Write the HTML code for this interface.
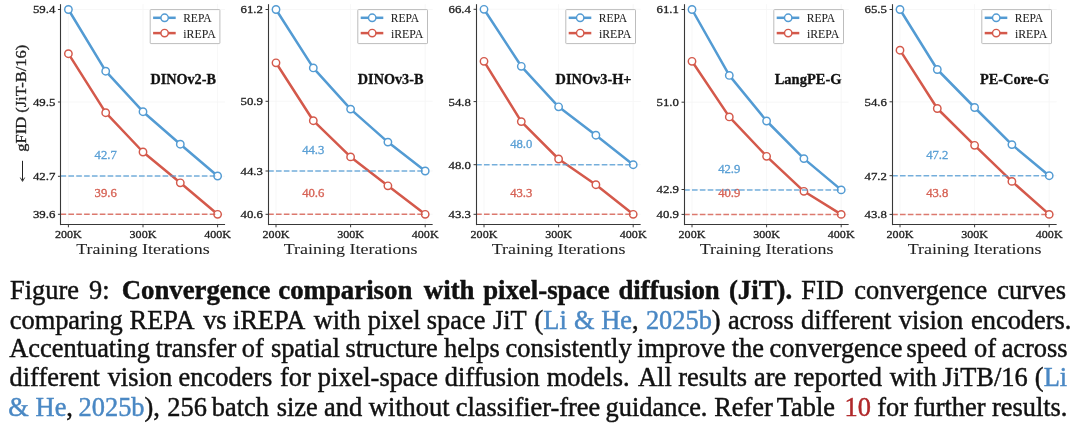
<!DOCTYPE html>
<html><head><meta charset="utf-8"><style>
html,body{margin:0;padding:0;background:#fff;}
.layer{position:absolute;left:0;top:0;width:1080px;height:427px;will-change:transform;}
body{width:1080px;height:427px;position:relative;overflow:hidden;}
svg{position:absolute;left:0;top:0;}
svg text{font-family:"Liberation Serif",serif;stroke-width:0.3px;}
.w{position:absolute;white-space:nowrap;-webkit-text-stroke:0.45px currentColor;font-family:"Liberation Serif",serif;font-size:26.4px;line-height:0;color:#111;}
.w b{font-weight:bold;font-size:26.8px;}
.b{color:#4A88C4;}
.r{color:#B0282A;}
</style></head><body><div class="layer">
<svg width="1080" height="262" viewBox="0 0 1080 262">
<line x1="68.40" y1="4.2" x2="68.40" y2="224.3" stroke="#F5F5F5" stroke-width="0.8"/>
<line x1="143.00" y1="4.2" x2="143.00" y2="224.3" stroke="#F5F5F5" stroke-width="0.8"/>
<line x1="217.60" y1="4.2" x2="217.60" y2="224.3" stroke="#F5F5F5" stroke-width="0.8"/>
<line x1="60.95" y1="9.5" x2="225.05" y2="9.5" stroke="#F5F5F5" stroke-width="0.8"/>
<line x1="60.95" y1="102.0" x2="225.05" y2="102.0" stroke="#F5F5F5" stroke-width="0.8"/>
<line x1="60.95" y1="176.3" x2="225.05" y2="176.3" stroke="#F5F5F5" stroke-width="0.8"/>
<line x1="60.95" y1="214.3" x2="225.05" y2="214.3" stroke="#F5F5F5" stroke-width="0.8"/>
<text x="105.70" y="159.40" fill-opacity="0.9" fill="#539BD3" stroke="#539BD3" font-size="11.8" text-anchor="middle" textLength="22.2" lengthAdjust="spacingAndGlyphs">42.7</text>
<text x="105.70" y="197.40" fill-opacity="0.9" fill="#D4594B" stroke="#D4594B" font-size="11.8" text-anchor="middle" textLength="22.2" lengthAdjust="spacingAndGlyphs">39.6</text>
<polyline points="68.40,53.7 105.70,112.7 143.00,152.0 180.30,182.8 217.60,214.3" fill="none" stroke="#D4594B" stroke-width="2.5" stroke-linejoin="round"/>
<circle cx="68.40" cy="53.7" r="3.7" fill="#fff" stroke="#D4594B" stroke-width="1.45"/>
<circle cx="105.70" cy="112.7" r="3.7" fill="#fff" stroke="#D4594B" stroke-width="1.45"/>
<circle cx="143.00" cy="152.0" r="3.7" fill="#fff" stroke="#D4594B" stroke-width="1.45"/>
<circle cx="180.30" cy="182.8" r="3.7" fill="#fff" stroke="#D4594B" stroke-width="1.45"/>
<circle cx="217.60" cy="214.3" r="3.7" fill="#fff" stroke="#D4594B" stroke-width="1.45"/>
<polyline points="68.40,9.5 105.70,71.2 143.00,111.7 180.30,144.2 217.60,176.0" fill="none" stroke="#539BD3" stroke-width="2.5" stroke-linejoin="round"/>
<circle cx="68.40" cy="9.5" r="3.7" fill="#fff" stroke="#539BD3" stroke-width="1.45"/>
<circle cx="105.70" cy="71.2" r="3.7" fill="#fff" stroke="#539BD3" stroke-width="1.45"/>
<circle cx="143.00" cy="111.7" r="3.7" fill="#fff" stroke="#539BD3" stroke-width="1.45"/>
<circle cx="180.30" cy="144.2" r="3.7" fill="#fff" stroke="#539BD3" stroke-width="1.45"/>
<circle cx="217.60" cy="176.0" r="3.7" fill="#fff" stroke="#539BD3" stroke-width="1.45"/>
<line x1="60.55" y1="176.0" x2="217.60" y2="176.0" stroke="#539BD3" stroke-opacity="0.8" stroke-width="1.5" stroke-dasharray="5.6 2.25"/>
<line x1="60.55" y1="214.3" x2="217.60" y2="214.3" stroke="#D4594B" stroke-opacity="0.8" stroke-width="1.5" stroke-dasharray="5.6 2.25"/>
<line x1="60.50" y1="4.2" x2="60.50" y2="225.10000000000002" stroke="#383838" stroke-width="1.1"/>
<line x1="60.00" y1="224.5" x2="225.05" y2="224.5" stroke="#383838" stroke-width="1.1"/>
<line x1="57.95" y1="9.5" x2="60.95" y2="9.5" stroke="#383838" stroke-width="1"/>
<text x="55.35" y="13.40" fill="#222222" stroke="#222222" font-size="11.3" text-anchor="end" textLength="22.4" lengthAdjust="spacingAndGlyphs">59.4</text>
<line x1="57.95" y1="102.0" x2="60.95" y2="102.0" stroke="#383838" stroke-width="1"/>
<text x="55.35" y="105.90" fill="#222222" stroke="#222222" font-size="11.3" text-anchor="end" textLength="22.4" lengthAdjust="spacingAndGlyphs">49.5</text>
<line x1="57.95" y1="176.3" x2="60.95" y2="176.3" stroke="#383838" stroke-width="1"/>
<text x="55.35" y="180.20" fill="#222222" stroke="#222222" font-size="11.3" text-anchor="end" textLength="22.4" lengthAdjust="spacingAndGlyphs">42.7</text>
<line x1="57.95" y1="214.3" x2="60.95" y2="214.3" stroke="#383838" stroke-width="1"/>
<text x="55.35" y="218.20" fill="#222222" stroke="#222222" font-size="11.3" text-anchor="end" textLength="22.4" lengthAdjust="spacingAndGlyphs">39.6</text>
<line x1="68.40" y1="224.3" x2="68.40" y2="227.3" stroke="#383838" stroke-width="1"/>
<text x="68.40" y="238" fill="#222222" stroke="#222222" font-size="11.0" text-anchor="middle" textLength="26.8" lengthAdjust="spacingAndGlyphs">200K</text>
<line x1="143.00" y1="224.3" x2="143.00" y2="227.3" stroke="#383838" stroke-width="1"/>
<text x="143.00" y="238" fill="#222222" stroke="#222222" font-size="11.0" text-anchor="middle" textLength="26.8" lengthAdjust="spacingAndGlyphs">300K</text>
<line x1="217.60" y1="224.3" x2="217.60" y2="227.3" stroke="#383838" stroke-width="1"/>
<text x="217.60" y="238" fill="#222222" stroke="#222222" font-size="11.0" text-anchor="middle" textLength="26.8" lengthAdjust="spacingAndGlyphs">400K</text>
<text x="143.00" y="254.0" fill="#222222" stroke="#222222" font-size="15.6" style="stroke-width:0.05px" text-anchor="middle" textLength="133.7" lengthAdjust="spacingAndGlyphs">Training Iterations</text>
<text x="215.90" y="83.8" fill="#111" stroke="#111" font-size="14.3" font-weight="bold" text-anchor="end" textLength="65.5" lengthAdjust="spacingAndGlyphs">DINOv2-B</text>
<rect x="150.20" y="9.6" width="69.7" height="34.0" fill="#fff" stroke="#BDBDBD" stroke-width="1" rx="0.6"/>
<line x1="153.10" y1="17.8" x2="175.70" y2="17.8" stroke="#539BD3" stroke-width="2.5"/>
<circle cx="164.60" cy="17.8" r="3.7" fill="#fff" stroke="#539BD3" stroke-width="1.45"/>
<text x="183.20" y="22.20" fill="#222222" stroke="#222222" font-size="11.8" style="stroke-width:0.05px" textLength="28.4" lengthAdjust="spacingAndGlyphs">REPA</text>
<line x1="153.10" y1="33.1" x2="175.70" y2="33.1" stroke="#D4594B" stroke-width="2.5"/>
<circle cx="164.60" cy="33.1" r="3.7" fill="#fff" stroke="#D4594B" stroke-width="1.45"/>
<text x="183.30" y="37.70" fill="#222222" stroke="#222222" font-size="11.8" style="stroke-width:0.05px" textLength="32.4" lengthAdjust="spacingAndGlyphs">iREPA</text>
<line x1="276.00" y1="4.2" x2="276.00" y2="224.3" stroke="#F5F5F5" stroke-width="0.8"/>
<line x1="350.60" y1="4.2" x2="350.60" y2="224.3" stroke="#F5F5F5" stroke-width="0.8"/>
<line x1="425.20" y1="4.2" x2="425.20" y2="224.3" stroke="#F5F5F5" stroke-width="0.8"/>
<line x1="268.55" y1="9.5" x2="432.65" y2="9.5" stroke="#F5F5F5" stroke-width="0.8"/>
<line x1="268.55" y1="101.3" x2="432.65" y2="101.3" stroke="#F5F5F5" stroke-width="0.8"/>
<line x1="268.55" y1="171.0" x2="432.65" y2="171.0" stroke="#F5F5F5" stroke-width="0.8"/>
<line x1="268.55" y1="214.3" x2="432.65" y2="214.3" stroke="#F5F5F5" stroke-width="0.8"/>
<text x="313.30" y="154.40" fill-opacity="0.9" fill="#539BD3" stroke="#539BD3" font-size="11.8" text-anchor="middle" textLength="22.2" lengthAdjust="spacingAndGlyphs">44.3</text>
<text x="313.30" y="197.40" fill-opacity="0.9" fill="#D4594B" stroke="#D4594B" font-size="11.8" text-anchor="middle" textLength="22.2" lengthAdjust="spacingAndGlyphs">40.6</text>
<polyline points="276.00,62.8 313.30,120.7 350.60,156.9 387.90,185.8 425.20,214.3" fill="none" stroke="#D4594B" stroke-width="2.5" stroke-linejoin="round"/>
<circle cx="276.00" cy="62.8" r="3.7" fill="#fff" stroke="#D4594B" stroke-width="1.45"/>
<circle cx="313.30" cy="120.7" r="3.7" fill="#fff" stroke="#D4594B" stroke-width="1.45"/>
<circle cx="350.60" cy="156.9" r="3.7" fill="#fff" stroke="#D4594B" stroke-width="1.45"/>
<circle cx="387.90" cy="185.8" r="3.7" fill="#fff" stroke="#D4594B" stroke-width="1.45"/>
<circle cx="425.20" cy="214.3" r="3.7" fill="#fff" stroke="#D4594B" stroke-width="1.45"/>
<polyline points="276.00,9.5 313.30,67.9 350.60,109.1 387.90,142.1 425.20,171.0" fill="none" stroke="#539BD3" stroke-width="2.5" stroke-linejoin="round"/>
<circle cx="276.00" cy="9.5" r="3.7" fill="#fff" stroke="#539BD3" stroke-width="1.45"/>
<circle cx="313.30" cy="67.9" r="3.7" fill="#fff" stroke="#539BD3" stroke-width="1.45"/>
<circle cx="350.60" cy="109.1" r="3.7" fill="#fff" stroke="#539BD3" stroke-width="1.45"/>
<circle cx="387.90" cy="142.1" r="3.7" fill="#fff" stroke="#539BD3" stroke-width="1.45"/>
<circle cx="425.20" cy="171.0" r="3.7" fill="#fff" stroke="#539BD3" stroke-width="1.45"/>
<line x1="268.15" y1="171.0" x2="425.20" y2="171.0" stroke="#539BD3" stroke-opacity="0.8" stroke-width="1.5" stroke-dasharray="5.6 2.25"/>
<line x1="268.15" y1="214.3" x2="425.20" y2="214.3" stroke="#D4594B" stroke-opacity="0.8" stroke-width="1.5" stroke-dasharray="5.6 2.25"/>
<line x1="268.50" y1="4.2" x2="268.50" y2="225.10000000000002" stroke="#383838" stroke-width="1.1"/>
<line x1="268.00" y1="224.5" x2="432.65" y2="224.5" stroke="#383838" stroke-width="1.1"/>
<line x1="265.55" y1="9.5" x2="268.55" y2="9.5" stroke="#383838" stroke-width="1"/>
<text x="262.95" y="13.40" fill="#222222" stroke="#222222" font-size="11.3" text-anchor="end" textLength="22.4" lengthAdjust="spacingAndGlyphs">61.2</text>
<line x1="265.55" y1="101.3" x2="268.55" y2="101.3" stroke="#383838" stroke-width="1"/>
<text x="262.95" y="105.20" fill="#222222" stroke="#222222" font-size="11.3" text-anchor="end" textLength="22.4" lengthAdjust="spacingAndGlyphs">50.9</text>
<line x1="265.55" y1="171.0" x2="268.55" y2="171.0" stroke="#383838" stroke-width="1"/>
<text x="262.95" y="174.90" fill="#222222" stroke="#222222" font-size="11.3" text-anchor="end" textLength="22.4" lengthAdjust="spacingAndGlyphs">44.3</text>
<line x1="265.55" y1="214.3" x2="268.55" y2="214.3" stroke="#383838" stroke-width="1"/>
<text x="262.95" y="218.20" fill="#222222" stroke="#222222" font-size="11.3" text-anchor="end" textLength="22.4" lengthAdjust="spacingAndGlyphs">40.6</text>
<line x1="276.00" y1="224.3" x2="276.00" y2="227.3" stroke="#383838" stroke-width="1"/>
<text x="276.00" y="238" fill="#222222" stroke="#222222" font-size="11.0" text-anchor="middle" textLength="26.8" lengthAdjust="spacingAndGlyphs">200K</text>
<line x1="350.60" y1="224.3" x2="350.60" y2="227.3" stroke="#383838" stroke-width="1"/>
<text x="350.60" y="238" fill="#222222" stroke="#222222" font-size="11.0" text-anchor="middle" textLength="26.8" lengthAdjust="spacingAndGlyphs">300K</text>
<line x1="425.20" y1="224.3" x2="425.20" y2="227.3" stroke="#383838" stroke-width="1"/>
<text x="425.20" y="238" fill="#222222" stroke="#222222" font-size="11.0" text-anchor="middle" textLength="26.8" lengthAdjust="spacingAndGlyphs">400K</text>
<text x="350.60" y="254.0" fill="#222222" stroke="#222222" font-size="15.6" style="stroke-width:0.05px" text-anchor="middle" textLength="133.7" lengthAdjust="spacingAndGlyphs">Training Iterations</text>
<text x="423.50" y="83.8" fill="#111" stroke="#111" font-size="14.3" font-weight="bold" text-anchor="end" textLength="65.7" lengthAdjust="spacingAndGlyphs">DINOv3-B</text>
<rect x="357.80" y="9.6" width="69.7" height="34.0" fill="#fff" stroke="#BDBDBD" stroke-width="1" rx="0.6"/>
<line x1="360.70" y1="17.8" x2="383.30" y2="17.8" stroke="#539BD3" stroke-width="2.5"/>
<circle cx="372.20" cy="17.8" r="3.7" fill="#fff" stroke="#539BD3" stroke-width="1.45"/>
<text x="390.80" y="22.20" fill="#222222" stroke="#222222" font-size="11.8" style="stroke-width:0.05px" textLength="28.4" lengthAdjust="spacingAndGlyphs">REPA</text>
<line x1="360.70" y1="33.1" x2="383.30" y2="33.1" stroke="#D4594B" stroke-width="2.5"/>
<circle cx="372.20" cy="33.1" r="3.7" fill="#fff" stroke="#D4594B" stroke-width="1.45"/>
<text x="390.90" y="37.70" fill="#222222" stroke="#222222" font-size="11.8" style="stroke-width:0.05px" textLength="32.4" lengthAdjust="spacingAndGlyphs">iREPA</text>
<line x1="484.00" y1="4.2" x2="484.00" y2="224.3" stroke="#F5F5F5" stroke-width="0.8"/>
<line x1="558.60" y1="4.2" x2="558.60" y2="224.3" stroke="#F5F5F5" stroke-width="0.8"/>
<line x1="633.20" y1="4.2" x2="633.20" y2="224.3" stroke="#F5F5F5" stroke-width="0.8"/>
<line x1="476.55" y1="9.3" x2="640.65" y2="9.3" stroke="#F5F5F5" stroke-width="0.8"/>
<line x1="476.55" y1="101.6" x2="640.65" y2="101.6" stroke="#F5F5F5" stroke-width="0.8"/>
<line x1="476.55" y1="164.7" x2="640.65" y2="164.7" stroke="#F5F5F5" stroke-width="0.8"/>
<line x1="476.55" y1="214.3" x2="640.65" y2="214.3" stroke="#F5F5F5" stroke-width="0.8"/>
<text x="521.30" y="148.10" fill-opacity="0.9" fill="#539BD3" stroke="#539BD3" font-size="11.8" text-anchor="middle" textLength="22.2" lengthAdjust="spacingAndGlyphs">48.0</text>
<text x="521.30" y="197.40" fill-opacity="0.9" fill="#D4594B" stroke="#D4594B" font-size="11.8" text-anchor="middle" textLength="22.2" lengthAdjust="spacingAndGlyphs">43.3</text>
<polyline points="484.00,61.3 521.30,121.6 558.60,159.0 595.90,184.7 633.20,214.3" fill="none" stroke="#D4594B" stroke-width="2.5" stroke-linejoin="round"/>
<circle cx="484.00" cy="61.3" r="3.7" fill="#fff" stroke="#D4594B" stroke-width="1.45"/>
<circle cx="521.30" cy="121.6" r="3.7" fill="#fff" stroke="#D4594B" stroke-width="1.45"/>
<circle cx="558.60" cy="159.0" r="3.7" fill="#fff" stroke="#D4594B" stroke-width="1.45"/>
<circle cx="595.90" cy="184.7" r="3.7" fill="#fff" stroke="#D4594B" stroke-width="1.45"/>
<circle cx="633.20" cy="214.3" r="3.7" fill="#fff" stroke="#D4594B" stroke-width="1.45"/>
<polyline points="484.00,9.3 521.30,66.3 558.60,106.8 595.90,135.2 633.20,164.7" fill="none" stroke="#539BD3" stroke-width="2.5" stroke-linejoin="round"/>
<circle cx="484.00" cy="9.3" r="3.7" fill="#fff" stroke="#539BD3" stroke-width="1.45"/>
<circle cx="521.30" cy="66.3" r="3.7" fill="#fff" stroke="#539BD3" stroke-width="1.45"/>
<circle cx="558.60" cy="106.8" r="3.7" fill="#fff" stroke="#539BD3" stroke-width="1.45"/>
<circle cx="595.90" cy="135.2" r="3.7" fill="#fff" stroke="#539BD3" stroke-width="1.45"/>
<circle cx="633.20" cy="164.7" r="3.7" fill="#fff" stroke="#539BD3" stroke-width="1.45"/>
<line x1="476.15" y1="164.7" x2="633.20" y2="164.7" stroke="#539BD3" stroke-opacity="0.8" stroke-width="1.5" stroke-dasharray="5.6 2.25"/>
<line x1="476.15" y1="214.3" x2="633.20" y2="214.3" stroke="#D4594B" stroke-opacity="0.8" stroke-width="1.5" stroke-dasharray="5.6 2.25"/>
<line x1="476.50" y1="4.2" x2="476.50" y2="225.10000000000002" stroke="#383838" stroke-width="1.1"/>
<line x1="476.00" y1="224.5" x2="640.65" y2="224.5" stroke="#383838" stroke-width="1.1"/>
<line x1="473.55" y1="9.3" x2="476.55" y2="9.3" stroke="#383838" stroke-width="1"/>
<text x="470.95" y="13.20" fill="#222222" stroke="#222222" font-size="11.3" text-anchor="end" textLength="22.4" lengthAdjust="spacingAndGlyphs">66.4</text>
<line x1="473.55" y1="101.6" x2="476.55" y2="101.6" stroke="#383838" stroke-width="1"/>
<text x="470.95" y="105.50" fill="#222222" stroke="#222222" font-size="11.3" text-anchor="end" textLength="22.4" lengthAdjust="spacingAndGlyphs">54.8</text>
<line x1="473.55" y1="164.7" x2="476.55" y2="164.7" stroke="#383838" stroke-width="1"/>
<text x="470.95" y="168.60" fill="#222222" stroke="#222222" font-size="11.3" text-anchor="end" textLength="22.4" lengthAdjust="spacingAndGlyphs">48.0</text>
<line x1="473.55" y1="214.3" x2="476.55" y2="214.3" stroke="#383838" stroke-width="1"/>
<text x="470.95" y="218.20" fill="#222222" stroke="#222222" font-size="11.3" text-anchor="end" textLength="22.4" lengthAdjust="spacingAndGlyphs">43.3</text>
<line x1="484.00" y1="224.3" x2="484.00" y2="227.3" stroke="#383838" stroke-width="1"/>
<text x="484.00" y="238" fill="#222222" stroke="#222222" font-size="11.0" text-anchor="middle" textLength="26.8" lengthAdjust="spacingAndGlyphs">200K</text>
<line x1="558.60" y1="224.3" x2="558.60" y2="227.3" stroke="#383838" stroke-width="1"/>
<text x="558.60" y="238" fill="#222222" stroke="#222222" font-size="11.0" text-anchor="middle" textLength="26.8" lengthAdjust="spacingAndGlyphs">300K</text>
<line x1="633.20" y1="224.3" x2="633.20" y2="227.3" stroke="#383838" stroke-width="1"/>
<text x="633.20" y="238" fill="#222222" stroke="#222222" font-size="11.0" text-anchor="middle" textLength="26.8" lengthAdjust="spacingAndGlyphs">400K</text>
<text x="558.60" y="254.0" fill="#222222" stroke="#222222" font-size="15.6" style="stroke-width:0.05px" text-anchor="middle" textLength="133.7" lengthAdjust="spacingAndGlyphs">Training Iterations</text>
<text x="631.50" y="83.8" fill="#111" stroke="#111" font-size="14.3" font-weight="bold" text-anchor="end" textLength="75.9" lengthAdjust="spacingAndGlyphs">DINOv3-H+</text>
<rect x="565.80" y="9.6" width="69.7" height="34.0" fill="#fff" stroke="#BDBDBD" stroke-width="1" rx="0.6"/>
<line x1="568.70" y1="17.8" x2="591.30" y2="17.8" stroke="#539BD3" stroke-width="2.5"/>
<circle cx="580.20" cy="17.8" r="3.7" fill="#fff" stroke="#539BD3" stroke-width="1.45"/>
<text x="598.80" y="22.20" fill="#222222" stroke="#222222" font-size="11.8" style="stroke-width:0.05px" textLength="28.4" lengthAdjust="spacingAndGlyphs">REPA</text>
<line x1="568.70" y1="33.1" x2="591.30" y2="33.1" stroke="#D4594B" stroke-width="2.5"/>
<circle cx="580.20" cy="33.1" r="3.7" fill="#fff" stroke="#D4594B" stroke-width="1.45"/>
<text x="598.90" y="37.70" fill="#222222" stroke="#222222" font-size="11.8" style="stroke-width:0.05px" textLength="32.4" lengthAdjust="spacingAndGlyphs">iREPA</text>
<line x1="692.00" y1="4.2" x2="692.00" y2="224.3" stroke="#F5F5F5" stroke-width="0.8"/>
<line x1="766.60" y1="4.2" x2="766.60" y2="224.3" stroke="#F5F5F5" stroke-width="0.8"/>
<line x1="841.20" y1="4.2" x2="841.20" y2="224.3" stroke="#F5F5F5" stroke-width="0.8"/>
<line x1="684.55" y1="9.5" x2="848.65" y2="9.5" stroke="#F5F5F5" stroke-width="0.8"/>
<line x1="684.55" y1="102.2" x2="848.65" y2="102.2" stroke="#F5F5F5" stroke-width="0.8"/>
<line x1="684.55" y1="189.5" x2="848.65" y2="189.5" stroke="#F5F5F5" stroke-width="0.8"/>
<line x1="684.55" y1="214.4" x2="848.65" y2="214.4" stroke="#F5F5F5" stroke-width="0.8"/>
<text x="729.30" y="172.90" fill-opacity="0.9" fill="#539BD3" stroke="#539BD3" font-size="11.8" text-anchor="middle" textLength="22.2" lengthAdjust="spacingAndGlyphs">42.9</text>
<text x="729.30" y="197.40" fill-opacity="0.9" fill="#D4594B" stroke="#D4594B" font-size="11.8" text-anchor="middle" textLength="22.2" lengthAdjust="spacingAndGlyphs">40.9</text>
<polyline points="692.00,61.3 729.30,116.9 766.60,156.3 803.90,191.3 841.20,214.4" fill="none" stroke="#D4594B" stroke-width="2.5" stroke-linejoin="round"/>
<circle cx="692.00" cy="61.3" r="3.7" fill="#fff" stroke="#D4594B" stroke-width="1.45"/>
<circle cx="729.30" cy="116.9" r="3.7" fill="#fff" stroke="#D4594B" stroke-width="1.45"/>
<circle cx="766.60" cy="156.3" r="3.7" fill="#fff" stroke="#D4594B" stroke-width="1.45"/>
<circle cx="803.90" cy="191.3" r="3.7" fill="#fff" stroke="#D4594B" stroke-width="1.45"/>
<circle cx="841.20" cy="214.4" r="3.7" fill="#fff" stroke="#D4594B" stroke-width="1.45"/>
<polyline points="692.00,9.5 729.30,75.4 766.60,121.0 803.90,158.6 841.20,189.9" fill="none" stroke="#539BD3" stroke-width="2.5" stroke-linejoin="round"/>
<circle cx="692.00" cy="9.5" r="3.7" fill="#fff" stroke="#539BD3" stroke-width="1.45"/>
<circle cx="729.30" cy="75.4" r="3.7" fill="#fff" stroke="#539BD3" stroke-width="1.45"/>
<circle cx="766.60" cy="121.0" r="3.7" fill="#fff" stroke="#539BD3" stroke-width="1.45"/>
<circle cx="803.90" cy="158.6" r="3.7" fill="#fff" stroke="#539BD3" stroke-width="1.45"/>
<circle cx="841.20" cy="189.9" r="3.7" fill="#fff" stroke="#539BD3" stroke-width="1.45"/>
<line x1="684.15" y1="189.9" x2="841.20" y2="189.9" stroke="#539BD3" stroke-opacity="0.8" stroke-width="1.5" stroke-dasharray="5.6 2.25"/>
<line x1="684.15" y1="214.4" x2="841.20" y2="214.4" stroke="#D4594B" stroke-opacity="0.8" stroke-width="1.5" stroke-dasharray="5.6 2.25"/>
<line x1="684.50" y1="4.2" x2="684.50" y2="225.10000000000002" stroke="#383838" stroke-width="1.1"/>
<line x1="684.00" y1="224.5" x2="848.65" y2="224.5" stroke="#383838" stroke-width="1.1"/>
<line x1="681.55" y1="9.5" x2="684.55" y2="9.5" stroke="#383838" stroke-width="1"/>
<text x="678.95" y="13.40" fill="#222222" stroke="#222222" font-size="11.3" text-anchor="end" textLength="22.4" lengthAdjust="spacingAndGlyphs">61.1</text>
<line x1="681.55" y1="102.2" x2="684.55" y2="102.2" stroke="#383838" stroke-width="1"/>
<text x="678.95" y="106.10" fill="#222222" stroke="#222222" font-size="11.3" text-anchor="end" textLength="22.4" lengthAdjust="spacingAndGlyphs">51.0</text>
<line x1="681.55" y1="189.5" x2="684.55" y2="189.5" stroke="#383838" stroke-width="1"/>
<text x="678.95" y="193.40" fill="#222222" stroke="#222222" font-size="11.3" text-anchor="end" textLength="22.4" lengthAdjust="spacingAndGlyphs">42.9</text>
<line x1="681.55" y1="214.4" x2="684.55" y2="214.4" stroke="#383838" stroke-width="1"/>
<text x="678.95" y="218.30" fill="#222222" stroke="#222222" font-size="11.3" text-anchor="end" textLength="22.4" lengthAdjust="spacingAndGlyphs">40.9</text>
<line x1="692.00" y1="224.3" x2="692.00" y2="227.3" stroke="#383838" stroke-width="1"/>
<text x="692.00" y="238" fill="#222222" stroke="#222222" font-size="11.0" text-anchor="middle" textLength="26.8" lengthAdjust="spacingAndGlyphs">200K</text>
<line x1="766.60" y1="224.3" x2="766.60" y2="227.3" stroke="#383838" stroke-width="1"/>
<text x="766.60" y="238" fill="#222222" stroke="#222222" font-size="11.0" text-anchor="middle" textLength="26.8" lengthAdjust="spacingAndGlyphs">300K</text>
<line x1="841.20" y1="224.3" x2="841.20" y2="227.3" stroke="#383838" stroke-width="1"/>
<text x="841.20" y="238" fill="#222222" stroke="#222222" font-size="11.0" text-anchor="middle" textLength="26.8" lengthAdjust="spacingAndGlyphs">400K</text>
<text x="766.60" y="254.0" fill="#222222" stroke="#222222" font-size="15.6" style="stroke-width:0.05px" text-anchor="middle" textLength="133.7" lengthAdjust="spacingAndGlyphs">Training Iterations</text>
<text x="841.50" y="83.8" fill="#111" stroke="#111" font-size="14.3" font-weight="bold" text-anchor="end" textLength="66.8" lengthAdjust="spacingAndGlyphs">LangPE-G</text>
<rect x="773.80" y="9.6" width="69.7" height="34.0" fill="#fff" stroke="#BDBDBD" stroke-width="1" rx="0.6"/>
<line x1="776.70" y1="17.8" x2="799.30" y2="17.8" stroke="#539BD3" stroke-width="2.5"/>
<circle cx="788.20" cy="17.8" r="3.7" fill="#fff" stroke="#539BD3" stroke-width="1.45"/>
<text x="806.80" y="22.20" fill="#222222" stroke="#222222" font-size="11.8" style="stroke-width:0.05px" textLength="28.4" lengthAdjust="spacingAndGlyphs">REPA</text>
<line x1="776.70" y1="33.1" x2="799.30" y2="33.1" stroke="#D4594B" stroke-width="2.5"/>
<circle cx="788.20" cy="33.1" r="3.7" fill="#fff" stroke="#D4594B" stroke-width="1.45"/>
<text x="806.90" y="37.70" fill="#222222" stroke="#222222" font-size="11.8" style="stroke-width:0.05px" textLength="32.4" lengthAdjust="spacingAndGlyphs">iREPA</text>
<line x1="900.00" y1="4.2" x2="900.00" y2="224.3" stroke="#F5F5F5" stroke-width="0.8"/>
<line x1="974.60" y1="4.2" x2="974.60" y2="224.3" stroke="#F5F5F5" stroke-width="0.8"/>
<line x1="1049.20" y1="4.2" x2="1049.20" y2="224.3" stroke="#F5F5F5" stroke-width="0.8"/>
<line x1="892.55" y1="9.5" x2="1056.65" y2="9.5" stroke="#F5F5F5" stroke-width="0.8"/>
<line x1="892.55" y1="101.8" x2="1056.65" y2="101.8" stroke="#F5F5F5" stroke-width="0.8"/>
<line x1="892.55" y1="175.7" x2="1056.65" y2="175.7" stroke="#F5F5F5" stroke-width="0.8"/>
<line x1="892.55" y1="214.4" x2="1056.65" y2="214.4" stroke="#F5F5F5" stroke-width="0.8"/>
<text x="937.30" y="159.40" fill-opacity="0.9" fill="#539BD3" stroke="#539BD3" font-size="11.8" text-anchor="middle" textLength="22.2" lengthAdjust="spacingAndGlyphs">47.2</text>
<text x="937.30" y="197.40" fill-opacity="0.9" fill="#D4594B" stroke="#D4594B" font-size="11.8" text-anchor="middle" textLength="22.2" lengthAdjust="spacingAndGlyphs">43.8</text>
<polyline points="900.00,50.2 937.30,108.5 974.60,145.3 1011.90,181.4 1049.20,214.4" fill="none" stroke="#D4594B" stroke-width="2.5" stroke-linejoin="round"/>
<circle cx="900.00" cy="50.2" r="3.7" fill="#fff" stroke="#D4594B" stroke-width="1.45"/>
<circle cx="937.30" cy="108.5" r="3.7" fill="#fff" stroke="#D4594B" stroke-width="1.45"/>
<circle cx="974.60" cy="145.3" r="3.7" fill="#fff" stroke="#D4594B" stroke-width="1.45"/>
<circle cx="1011.90" cy="181.4" r="3.7" fill="#fff" stroke="#D4594B" stroke-width="1.45"/>
<circle cx="1049.20" cy="214.4" r="3.7" fill="#fff" stroke="#D4594B" stroke-width="1.45"/>
<polyline points="900.00,9.5 937.30,69.5 974.60,107.5 1011.90,144.6 1049.20,175.7" fill="none" stroke="#539BD3" stroke-width="2.5" stroke-linejoin="round"/>
<circle cx="900.00" cy="9.5" r="3.7" fill="#fff" stroke="#539BD3" stroke-width="1.45"/>
<circle cx="937.30" cy="69.5" r="3.7" fill="#fff" stroke="#539BD3" stroke-width="1.45"/>
<circle cx="974.60" cy="107.5" r="3.7" fill="#fff" stroke="#539BD3" stroke-width="1.45"/>
<circle cx="1011.90" cy="144.6" r="3.7" fill="#fff" stroke="#539BD3" stroke-width="1.45"/>
<circle cx="1049.20" cy="175.7" r="3.7" fill="#fff" stroke="#539BD3" stroke-width="1.45"/>
<line x1="892.15" y1="175.7" x2="1049.20" y2="175.7" stroke="#539BD3" stroke-opacity="0.8" stroke-width="1.5" stroke-dasharray="5.6 2.25"/>
<line x1="892.15" y1="214.4" x2="1049.20" y2="214.4" stroke="#D4594B" stroke-opacity="0.8" stroke-width="1.5" stroke-dasharray="5.6 2.25"/>
<line x1="892.50" y1="4.2" x2="892.50" y2="225.10000000000002" stroke="#383838" stroke-width="1.1"/>
<line x1="892.00" y1="224.5" x2="1056.65" y2="224.5" stroke="#383838" stroke-width="1.1"/>
<line x1="889.55" y1="9.5" x2="892.55" y2="9.5" stroke="#383838" stroke-width="1"/>
<text x="886.95" y="13.40" fill="#222222" stroke="#222222" font-size="11.3" text-anchor="end" textLength="22.4" lengthAdjust="spacingAndGlyphs">65.5</text>
<line x1="889.55" y1="101.8" x2="892.55" y2="101.8" stroke="#383838" stroke-width="1"/>
<text x="886.95" y="105.70" fill="#222222" stroke="#222222" font-size="11.3" text-anchor="end" textLength="22.4" lengthAdjust="spacingAndGlyphs">54.6</text>
<line x1="889.55" y1="175.7" x2="892.55" y2="175.7" stroke="#383838" stroke-width="1"/>
<text x="886.95" y="179.60" fill="#222222" stroke="#222222" font-size="11.3" text-anchor="end" textLength="22.4" lengthAdjust="spacingAndGlyphs">47.2</text>
<line x1="889.55" y1="214.4" x2="892.55" y2="214.4" stroke="#383838" stroke-width="1"/>
<text x="886.95" y="218.30" fill="#222222" stroke="#222222" font-size="11.3" text-anchor="end" textLength="22.4" lengthAdjust="spacingAndGlyphs">43.8</text>
<line x1="900.00" y1="224.3" x2="900.00" y2="227.3" stroke="#383838" stroke-width="1"/>
<text x="900.00" y="238" fill="#222222" stroke="#222222" font-size="11.0" text-anchor="middle" textLength="26.8" lengthAdjust="spacingAndGlyphs">200K</text>
<line x1="974.60" y1="224.3" x2="974.60" y2="227.3" stroke="#383838" stroke-width="1"/>
<text x="974.60" y="238" fill="#222222" stroke="#222222" font-size="11.0" text-anchor="middle" textLength="26.8" lengthAdjust="spacingAndGlyphs">300K</text>
<line x1="1049.20" y1="224.3" x2="1049.20" y2="227.3" stroke="#383838" stroke-width="1"/>
<text x="1049.20" y="238" fill="#222222" stroke="#222222" font-size="11.0" text-anchor="middle" textLength="26.8" lengthAdjust="spacingAndGlyphs">400K</text>
<text x="974.60" y="254.0" fill="#222222" stroke="#222222" font-size="15.6" style="stroke-width:0.05px" text-anchor="middle" textLength="133.7" lengthAdjust="spacingAndGlyphs">Training Iterations</text>
<text x="1049.30" y="83.8" fill="#111" stroke="#111" font-size="14.3" font-weight="bold" text-anchor="end" textLength="69.4" lengthAdjust="spacingAndGlyphs">PE-Core-G</text>
<rect x="981.80" y="9.6" width="69.7" height="34.0" fill="#fff" stroke="#BDBDBD" stroke-width="1" rx="0.6"/>
<line x1="984.70" y1="17.8" x2="1007.30" y2="17.8" stroke="#539BD3" stroke-width="2.5"/>
<circle cx="996.20" cy="17.8" r="3.7" fill="#fff" stroke="#539BD3" stroke-width="1.45"/>
<text x="1014.80" y="22.20" fill="#222222" stroke="#222222" font-size="11.8" style="stroke-width:0.05px" textLength="28.4" lengthAdjust="spacingAndGlyphs">REPA</text>
<line x1="984.70" y1="33.1" x2="1007.30" y2="33.1" stroke="#D4594B" stroke-width="2.5"/>
<circle cx="996.20" cy="33.1" r="3.7" fill="#fff" stroke="#D4594B" stroke-width="1.45"/>
<text x="1014.90" y="37.70" fill="#222222" stroke="#222222" font-size="11.8" style="stroke-width:0.05px" textLength="32.4" lengthAdjust="spacingAndGlyphs">iREPA</text>
<text transform="translate(25.5,98.2) rotate(-90)" fill="#222222" stroke="#222222" font-size="15.2" text-anchor="middle" textLength="107" lengthAdjust="spacingAndGlyphs">gFID (JiT-B/16)</text>
<line x1="22.5" y1="160.8" x2="22.5" y2="180.5" stroke="#222222" stroke-width="1"/>
<path d="M20.3,177.6 L22.5,181.4 L24.7,177.6" fill="none" stroke="#222222" stroke-width="0.9"/>
</svg>
<span class="w" style="left:10.08px;top:290.00px">Figure</span>
<span class="w" style="left:89.07px;top:290.00px">9:</span>
<span class="w" style="left:121.63px;top:290.00px"><b>Convergence</b></span>
<span class="w" style="left:278.34px;top:290.00px"><b>comparison</b></span>
<span class="w" style="left:423.84px;top:290.00px"><b>with</b></span>
<span class="w" style="left:483.13px;top:290.00px"><b>pixel-space</b></span>
<span class="w" style="left:618.46px;top:290.00px"><b>diffusion</b></span>
<span class="w" style="left:728.88px;top:290.00px"><b>(JiT).</b></span>
<span class="w" style="left:801.31px;top:290.00px">FID</span>
<span class="w" style="left:854.33px;top:290.00px">convergence</span>
<span class="w" style="left:997.18px;top:290.00px">curves</span>
<span class="w" style="left:9.72px;top:319.50px">comparing</span>
<span class="w" style="left:129.58px;top:319.50px">REPA</span>
<span class="w" style="left:203.17px;top:319.50px">vs</span>
<span class="w" style="left:232.91px;top:319.50px">iREPA</span>
<span class="w" style="left:313.67px;top:319.50px">with</span>
<span class="w" style="left:367.76px;top:319.50px">pixel</span>
<span class="w" style="left:426.84px;top:319.50px">space</span>
<span class="w" style="left:492.98px;top:319.50px">JiT</span>
<span class="w" style="left:534.47px;top:319.50px">(<span class="b">Li</span></span>
<span class="w" style="left:573.88px;top:319.50px"><span class="b">&amp;</span></span>
<span class="w" style="left:601.23px;top:319.50px"><span class="b">He</span>,</span>
<span class="w" style="left:645.89px;top:319.50px"><span class="b">2025b</span>)</span>
<span class="w" style="left:727.90px;top:319.50px">across</span>
<span class="w" style="left:801.08px;top:319.50px">different</span>
<span class="w" style="left:898.71px;top:319.50px">vision</span>
<span class="w" style="left:971.03px;top:319.50px">encoders.</span>
<span class="w" style="left:9.22px;top:348.20px">Accentuating</span>
<span class="w" style="left:155.72px;top:348.20px">transfer</span>
<span class="w" style="left:241.71px;top:348.20px">of</span>
<span class="w" style="left:270.90px;top:348.20px">spatial</span>
<span class="w" style="left:345.41px;top:348.20px">structure</span>
<span class="w" style="left:444.00px;top:348.20px">helps</span>
<span class="w" style="left:505.54px;top:348.20px">consistently</span>
<span class="w" style="left:637.17px;top:348.20px">improve</span>
<span class="w" style="left:731.74px;top:348.20px">the</span>
<span class="w" style="left:769.59px;top:348.20px">convergence</span>
<span class="w" style="left:906.58px;top:348.20px">speed</span>
<span class="w" style="left:973.96px;top:348.20px">of</span>
<span class="w" style="left:1001.67px;top:348.20px">across</span>
<span class="w" style="left:9.56px;top:377.20px">different</span>
<span class="w" style="left:107.66px;top:377.20px">vision</span>
<span class="w" style="left:178.57px;top:377.20px">encoders</span>
<span class="w" style="left:279.98px;top:377.20px">for</span>
<span class="w" style="left:317.85px;top:377.20px">pixel-space</span>
<span class="w" style="left:444.84px;top:377.20px">diffusion</span>
<span class="w" style="left:546.68px;top:377.20px">models.</span>
<span class="w" style="left:638.04px;top:377.20px">All</span>
<span class="w" style="left:678.22px;top:377.20px">results</span>
<span class="w" style="left:754.07px;top:377.20px">are</span>
<span class="w" style="left:794.05px;top:377.20px">reported</span>
<span class="w" style="left:889.72px;top:377.20px">with</span>
<span class="w" style="left:942.61px;top:377.20px">JiTB/16</span>
<span class="w" style="left:1034.83px;top:377.20px">(<span class="b">Li</span></span>
<span class="w" style="left:8.32px;top:406.90px"><span class="b">&amp;</span></span>
<span class="w" style="left:35.58px;top:406.90px"><span class="b">He</span>,</span>
<span class="w" style="left:78.56px;top:406.90px"><span class="b">2025b</span>),</span>
<span class="w" style="left:167.33px;top:406.90px">256</span>
<span class="w" style="left:211.86px;top:406.90px">batch</span>
<span class="w" style="left:276.68px;top:406.90px">size</span>
<span class="w" style="left:324.00px;top:406.90px">and</span>
<span class="w" style="left:368.85px;top:406.90px">without</span>
<span class="w" style="left:455.78px;top:406.90px">classifier-free</span>
<span class="w" style="left:605.60px;top:406.90px">guidance.</span>
<span class="w" style="left:714.13px;top:406.90px">Refer</span>
<span class="w" style="left:776.84px;top:406.90px">Table</span>
<span class="w" style="left:844.55px;top:406.90px"><span class="r">10</span></span>
<span class="w" style="left:877.23px;top:406.90px">for</span>
<span class="w" style="left:913.72px;top:406.90px">further</span>
<span class="w" style="left:991.96px;top:406.90px">results.</span>
</div></body></html>
